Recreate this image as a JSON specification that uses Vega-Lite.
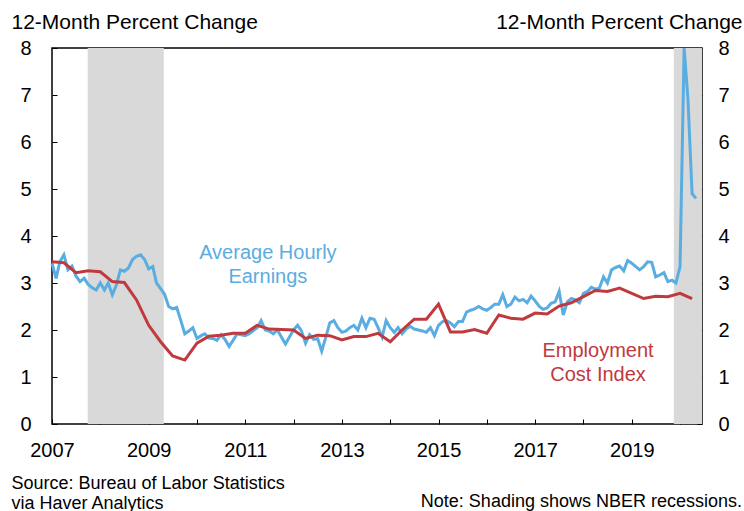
{
  "$schema": "https://vega.github.io/schema/vega-lite/v6.json",
  "width": 650,
  "height": 376,
  "autosize": {"type": "none"},
  "padding": {"left": 52, "top": 48, "right": 42, "bottom": 87},
  "background": "white",
  "config": {
    "font": "Liberation Sans",
    "view": {"stroke": "black", "strokeWidth": 1.5}
  },
  "datasets": {
    "rec": [
      {"start": "2007-09-28", "end": "2009-04-25"},
      {"start": "2019-11-15", "end": "2020-06-15"}
    ],
    "ahe": [
      {"date": "2007-01-01", "value": 3.42}, {"date": "2007-02-01", "value": 3.1}, {"date": "2007-03-01", "value": 3.45}, {"date": "2007-04-01", "value": 3.6}, {"date": "2007-05-01", "value": 3.28}, {"date": "2007-06-01", "value": 3.36}, {"date": "2007-07-01", "value": 3.15}, {"date": "2007-08-01", "value": 3.03}, {"date": "2007-09-01", "value": 3.1}, {"date": "2007-10-01", "value": 2.97}, {"date": "2007-11-01", "value": 2.9}, {"date": "2007-12-01", "value": 2.85},
      {"date": "2008-01-01", "value": 3.0}, {"date": "2008-02-01", "value": 2.85}, {"date": "2008-03-01", "value": 3.0}, {"date": "2008-04-01", "value": 2.75}, {"date": "2008-05-01", "value": 2.95}, {"date": "2008-06-01", "value": 3.28}, {"date": "2008-07-01", "value": 3.25}, {"date": "2008-08-01", "value": 3.32}, {"date": "2008-09-01", "value": 3.5}, {"date": "2008-10-01", "value": 3.57}, {"date": "2008-11-01", "value": 3.6}, {"date": "2008-12-01", "value": 3.5},
      {"date": "2009-01-01", "value": 3.3}, {"date": "2009-02-01", "value": 3.35}, {"date": "2009-03-01", "value": 3.0}, {"date": "2009-04-01", "value": 2.88}, {"date": "2009-05-01", "value": 2.76}, {"date": "2009-06-01", "value": 2.5}, {"date": "2009-07-01", "value": 2.45}, {"date": "2009-08-01", "value": 2.48}, {"date": "2009-09-01", "value": 2.2}, {"date": "2009-10-01", "value": 1.92}, {"date": "2009-11-01", "value": 1.98}, {"date": "2009-12-01", "value": 2.05},
      {"date": "2010-01-01", "value": 1.82}, {"date": "2010-02-01", "value": 1.88}, {"date": "2010-03-01", "value": 1.92}, {"date": "2010-04-01", "value": 1.83}, {"date": "2010-05-01", "value": 1.82}, {"date": "2010-06-01", "value": 1.78}, {"date": "2010-07-01", "value": 1.9}, {"date": "2010-08-01", "value": 1.8}, {"date": "2010-09-01", "value": 1.65}, {"date": "2010-10-01", "value": 1.78}, {"date": "2010-11-01", "value": 1.92}, {"date": "2010-12-01", "value": 1.9},
      {"date": "2011-01-01", "value": 1.88}, {"date": "2011-02-01", "value": 1.92}, {"date": "2011-03-01", "value": 1.98}, {"date": "2011-04-01", "value": 2.05}, {"date": "2011-05-01", "value": 2.2}, {"date": "2011-06-01", "value": 2.0}, {"date": "2011-07-01", "value": 1.98}, {"date": "2011-08-01", "value": 1.92}, {"date": "2011-09-01", "value": 2.0}, {"date": "2011-10-01", "value": 1.85}, {"date": "2011-11-01", "value": 1.7}, {"date": "2011-12-01", "value": 1.85},
      {"date": "2012-01-01", "value": 2.0}, {"date": "2012-02-01", "value": 2.1}, {"date": "2012-03-01", "value": 1.98}, {"date": "2012-04-01", "value": 1.72}, {"date": "2012-05-01", "value": 1.9}, {"date": "2012-06-01", "value": 1.8}, {"date": "2012-07-01", "value": 1.82}, {"date": "2012-08-01", "value": 1.55}, {"date": "2012-09-01", "value": 1.85}, {"date": "2012-10-01", "value": 2.15}, {"date": "2012-11-01", "value": 2.2}, {"date": "2012-12-01", "value": 2.05},
      {"date": "2013-01-01", "value": 1.95}, {"date": "2013-02-01", "value": 1.98}, {"date": "2013-03-01", "value": 2.05}, {"date": "2013-04-01", "value": 2.1}, {"date": "2013-05-01", "value": 2.0}, {"date": "2013-06-01", "value": 2.25}, {"date": "2013-07-01", "value": 2.05}, {"date": "2013-08-01", "value": 2.25}, {"date": "2013-09-01", "value": 2.23}, {"date": "2013-10-01", "value": 2.05}, {"date": "2013-11-01", "value": 1.85}, {"date": "2013-12-01", "value": 2.2},
      {"date": "2014-01-01", "value": 2.05}, {"date": "2014-02-01", "value": 1.95}, {"date": "2014-03-01", "value": 2.05}, {"date": "2014-04-01", "value": 1.92}, {"date": "2014-05-01", "value": 2.02}, {"date": "2014-06-01", "value": 2.08}, {"date": "2014-07-01", "value": 2.02}, {"date": "2014-08-01", "value": 2.0}, {"date": "2014-09-01", "value": 1.98}, {"date": "2014-10-01", "value": 1.95}, {"date": "2014-11-01", "value": 2.05}, {"date": "2014-12-01", "value": 1.88},
      {"date": "2015-01-01", "value": 2.1}, {"date": "2015-02-01", "value": 2.18}, {"date": "2015-03-01", "value": 2.2}, {"date": "2015-04-01", "value": 2.15}, {"date": "2015-05-01", "value": 2.07}, {"date": "2015-06-01", "value": 2.18}, {"date": "2015-07-01", "value": 2.18}, {"date": "2015-08-01", "value": 2.38}, {"date": "2015-09-01", "value": 2.42}, {"date": "2015-10-01", "value": 2.45}, {"date": "2015-11-01", "value": 2.5}, {"date": "2015-12-01", "value": 2.45},
      {"date": "2016-01-01", "value": 2.42}, {"date": "2016-02-01", "value": 2.48}, {"date": "2016-03-01", "value": 2.55}, {"date": "2016-04-01", "value": 2.55}, {"date": "2016-05-01", "value": 2.75}, {"date": "2016-06-01", "value": 2.5}, {"date": "2016-07-01", "value": 2.55}, {"date": "2016-08-01", "value": 2.7}, {"date": "2016-09-01", "value": 2.62}, {"date": "2016-10-01", "value": 2.65}, {"date": "2016-11-01", "value": 2.58}, {"date": "2016-12-01", "value": 2.72},
      {"date": "2017-01-01", "value": 2.62}, {"date": "2017-02-01", "value": 2.5}, {"date": "2017-03-01", "value": 2.44}, {"date": "2017-04-01", "value": 2.47}, {"date": "2017-05-01", "value": 2.57}, {"date": "2017-06-01", "value": 2.6}, {"date": "2017-07-01", "value": 2.82}, {"date": "2017-08-01", "value": 2.32}, {"date": "2017-09-01", "value": 2.6}, {"date": "2017-10-01", "value": 2.67}, {"date": "2017-11-01", "value": 2.64}, {"date": "2017-12-01", "value": 2.58},
      {"date": "2018-01-01", "value": 2.78}, {"date": "2018-02-01", "value": 2.82}, {"date": "2018-03-01", "value": 2.91}, {"date": "2018-04-01", "value": 2.87}, {"date": "2018-05-01", "value": 2.89}, {"date": "2018-06-01", "value": 3.13}, {"date": "2018-07-01", "value": 3.0}, {"date": "2018-08-01", "value": 3.28}, {"date": "2018-09-01", "value": 3.33}, {"date": "2018-10-01", "value": 3.36}, {"date": "2018-11-01", "value": 3.26}, {"date": "2018-12-01", "value": 3.48},
      {"date": "2019-01-01", "value": 3.42}, {"date": "2019-02-01", "value": 3.35}, {"date": "2019-03-01", "value": 3.28}, {"date": "2019-04-01", "value": 3.35}, {"date": "2019-05-01", "value": 3.45}, {"date": "2019-06-01", "value": 3.44}, {"date": "2019-07-01", "value": 3.13}, {"date": "2019-08-01", "value": 3.17}, {"date": "2019-09-01", "value": 3.22}, {"date": "2019-10-01", "value": 3.03}, {"date": "2019-11-01", "value": 3.06}, {"date": "2019-12-01", "value": 3.0},
      {"date": "2020-01-01", "value": 3.35}, {"date": "2020-02-01", "value": 8.0}, {"date": "2020-03-01", "value": 6.9}, {"date": "2020-04-01", "value": 4.9}, {"date": "2020-05-01", "value": 4.8}
    ],
    "eci": [
      {"date": "2007-01-01", "value": 3.45}, {"date": "2007-04-01", "value": 3.43}, {"date": "2007-07-01", "value": 3.22}, {"date": "2007-10-01", "value": 3.26},
      {"date": "2008-01-01", "value": 3.24}, {"date": "2008-04-01", "value": 3.03}, {"date": "2008-07-01", "value": 3.01}, {"date": "2008-10-01", "value": 2.64},
      {"date": "2009-01-01", "value": 2.1}, {"date": "2009-04-01", "value": 1.75}, {"date": "2009-07-01", "value": 1.45}, {"date": "2009-10-01", "value": 1.36},
      {"date": "2010-01-01", "value": 1.72}, {"date": "2010-04-01", "value": 1.87}, {"date": "2010-07-01", "value": 1.89}, {"date": "2010-10-01", "value": 1.93},
      {"date": "2011-01-01", "value": 1.93}, {"date": "2011-04-01", "value": 2.1}, {"date": "2011-07-01", "value": 2.02}, {"date": "2011-10-01", "value": 2.01},
      {"date": "2012-01-01", "value": 2.0}, {"date": "2012-04-01", "value": 1.82}, {"date": "2012-07-01", "value": 1.89}, {"date": "2012-10-01", "value": 1.88},
      {"date": "2013-01-01", "value": 1.79}, {"date": "2013-04-01", "value": 1.86}, {"date": "2013-07-01", "value": 1.86}, {"date": "2013-10-01", "value": 1.93},
      {"date": "2014-01-01", "value": 1.75}, {"date": "2014-04-01", "value": 2.0}, {"date": "2014-07-01", "value": 2.23}, {"date": "2014-10-01", "value": 2.23},
      {"date": "2015-01-01", "value": 2.55}, {"date": "2015-04-01", "value": 1.96}, {"date": "2015-07-01", "value": 1.96}, {"date": "2015-10-01", "value": 2.01},
      {"date": "2016-01-01", "value": 1.93}, {"date": "2016-04-01", "value": 2.32}, {"date": "2016-07-01", "value": 2.25}, {"date": "2016-10-01", "value": 2.23},
      {"date": "2017-01-01", "value": 2.36}, {"date": "2017-04-01", "value": 2.34}, {"date": "2017-07-01", "value": 2.51}, {"date": "2017-10-01", "value": 2.58},
      {"date": "2018-01-01", "value": 2.71}, {"date": "2018-04-01", "value": 2.84}, {"date": "2018-07-01", "value": 2.82}, {"date": "2018-10-01", "value": 2.89},
      {"date": "2019-01-01", "value": 2.78}, {"date": "2019-04-01", "value": 2.67}, {"date": "2019-07-01", "value": 2.72}, {"date": "2019-10-01", "value": 2.71},
      {"date": "2020-01-01", "value": 2.78}, {"date": "2020-04-01", "value": 2.67}
    ],
    "one": [{}]
  },
  "resolve": {"axis": {"y": "independent"}},
  "layer": [
    {
      "data": {"name": "rec"},
      "mark": {"type": "rect", "color": "#d9d9d9"},
      "encoding": {
        "x": {
          "field": "start", "type": "temporal",
          "scale": {"type": "utc", "domain": [{"year": 2007, "month": 1, "date": 1, "utc": true}, {"year": 2020, "month": 6, "date": 15, "utc": true}]},
          "axis": {
            "title": ["Source: Bureau of Labor Statistics", "via Haver Analytics"],
            "titleX": -41, "titleY": 64, "titleAlign": "left", "titleAnchor": "start", "titleBaseline": "alphabetic",
            "titleFontSize": 18, "titleFontWeight": "normal", "titleLineHeight": 20, "titleColor": "black",
            "tickCount": {"interval": "year", "step": 1},
            "labelExpr": "utcyear(datum.value) % 2 == 1 ? utcFormat(datum.value, '%Y') : ''",
            "labelFontSize": 20, "labelColor": "black", "labelPadding": 21, "labelOverlap": false, "labelFlush": false,
            "tickSize": -5, "tickColor": "black", "tickWidth": 1, "domain": false, "grid": false
          }
        },
        "x2": {"field": "end"}
      }
    },
    {
      "data": {"name": "ahe"},
      "mark": {"type": "line", "color": "#5aade0", "strokeWidth": 3},
      "encoding": {
        "x": {"field": "date", "type": "temporal"},
        "y": {
          "field": "value", "type": "quantitative",
          "scale": {"domain": [0, 8], "nice": false},
          "axis": {
            "orient": "left", "values": [0, 1, 2, 3, 4, 5, 6, 7, 8],
            "title": "12-Month Percent Change", "titleAngle": 0, "titleAlign": "left", "titleBaseline": "alphabetic",
            "titleX": -41, "titleY": -20, "titleFontSize": 21, "titleFontWeight": "normal", "titleColor": "black",
            "labelFontSize": 20, "labelColor": "black", "labelPadding": 26,
            "tickSize": -5, "tickColor": "black", "tickWidth": 1, "domain": false, "grid": false
          }
        }
      }
    },
    {
      "data": {"name": "eci"},
      "mark": {"type": "line", "color": "#c0393d", "strokeWidth": 3},
      "encoding": {
        "x": {"field": "date", "type": "temporal"},
        "y": {
          "field": "value", "type": "quantitative",
          "axis": {
            "orient": "right", "values": [0, 1, 2, 3, 4, 5, 6, 7, 8],
            "title": "12-Month Percent Change", "titleAngle": 0, "titleAlign": "right", "titleBaseline": "alphabetic",
            "titleX": 40, "titleY": -20, "titleFontSize": 21, "titleFontWeight": "normal", "titleColor": "black",
            "labelFontSize": 20, "labelColor": "black", "labelPadding": 21,
            "tickSize": -5, "tickColor": "black", "tickWidth": 1, "domain": false, "grid": false
          }
        }
      }
    },
    {
      "data": {"name": "one"},
      "mark": {"type": "text", "text": ["Average Hourly", "Earnings"], "color": "#5aade0", "fontSize": 20, "align": "center", "baseline": "alphabetic", "lineHeight": 24},
      "encoding": {
        "x": {"datum": {"year": 2011, "month": 6, "date": 21, "utc": true}, "type": "temporal"},
        "y": {"datum": 3.51, "type": "quantitative", "axis": null}
      }
    },
    {
      "data": {"name": "one"},
      "mark": {"type": "text", "text": ["Employment", "Cost Index"], "color": "#c0393d", "fontSize": 20, "align": "center", "baseline": "alphabetic", "lineHeight": 24},
      "encoding": {
        "x": {"datum": {"year": 2018, "month": 4, "date": 21, "utc": true}, "type": "temporal"},
        "y": {"datum": 1.43, "type": "quantitative", "axis": null}
      }
    },
    {
      "data": {"name": "one"},
      "mark": {"type": "text", "text": "Note: Shading shows NBER recessions.", "color": "black", "fontSize": 18, "align": "right", "baseline": "alphabetic", "dx": 40},
      "encoding": {
        "x": {"datum": {"year": 2020, "month": 6, "date": 15, "utc": true}, "type": "temporal"},
        "y": {"datum": -1.77, "type": "quantitative", "axis": null}
      }
    }
  ]
}
